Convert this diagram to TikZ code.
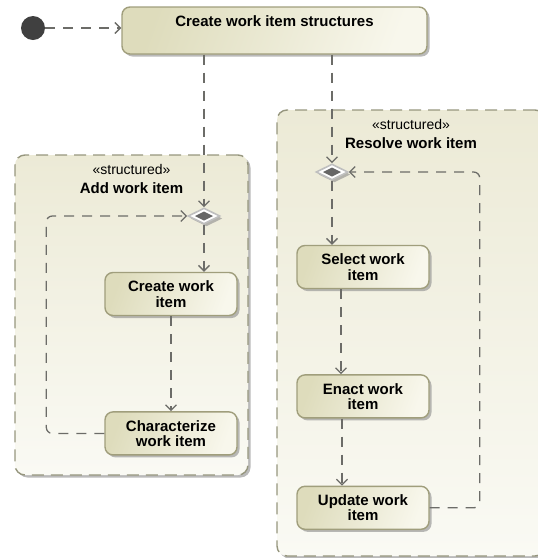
\documentclass[tikz,border=0pt]{standalone}
\usepackage{fontspec}
\setmainfont{Liberation Sans}
\usetikzlibrary{positioning,shapes.geometric,arrows.meta,shadows}

\definecolor{actdark}{RGB}{222,220,188}
\definecolor{actlight}{RGB}{248,247,236}
\definecolor{actline}{RGB}{160,158,124}
\definecolor{regdark}{RGB}{236,234,214}
\definecolor{reglight}{RGB}{250,250,244}
\definecolor{regline}{RGB}{150,150,126}
\definecolor{flowgray}{RGB}{108,108,104}

\begin{document}
\begin{tikzpicture}[
  x=1pt, y=-1pt,
  lbl/.style={font=\fontsize{15}{15.5}\selectfont\bfseries, align=center},
  stereo/.style={font=\fontsize{14}{15}\selectfont, inner sep=2pt},
  shade/.style={drop shadow={shadow xshift=2.5pt, shadow yshift=-2.5pt,
               fill=black!45, opacity=.6}},
  action/.style={draw=actline, line width=1.4pt, rounded corners=8pt,
                 left color=actdark, right color=actlight, shading angle=70,
                 shade, minimum width=132pt, minimum height=43pt, inner sep=1pt, lbl},
  region/.style={draw=regline, line width=1.4pt, dash pattern=on 12pt off 7pt,
                 rounded corners=10pt, top color=regdark, bottom color=reglight, shade},
  initial/.style={circle, fill=black!75, minimum size=24pt, inner sep=0pt},
  decision/.style={diamond, draw=gray!50, fill=white, line width=1.6pt,
                   minimum width=32pt, minimum height=16pt, inner sep=0pt, shade,
                   path picture={\fill[black!60] (path picture bounding box.center)
                     ++(-9pt,0) -- ++(9pt,4.5pt) -- ++(9pt,-4.5pt) -- ++(-9pt,-4.5pt) -- cycle;}},
  flow/.style={draw=flowgray, line width=1.3pt, dash pattern=on 10pt off 8pt,
               -{Straight Barb[length=5.5pt,width=11pt]}}
]
\useasboundingbox (0,0) rectangle (538,558);

% Initial node and the first action
\node[initial] (init) at (33,28) {};
\node[action, minimum width=305pt, minimum height=47pt,
  label={[lbl, anchor=north, yshift=-6pt]north:Create work item structures}] (structs) at (274.5,30.5) {};

% Structured regions
\node[region, minimum width=233pt, minimum height=320pt] (addreg) at (131.5,315) {};
\node[stereo, below=8pt of addreg.north] (addster) {«structured»};
\node[lbl, below=2pt of addster] (addname) {Add work item};

\node[region, minimum width=268pt, minimum height=446pt] (resreg) at (411,333) {};
\node[stereo, below=8pt of resreg.north] (resster) {«structured»};
\node[lbl, below=2pt of resster] (resname) {Resolve work item};

% Add work item loop
\node[decision] (dadd) at (204,216) {};
\node[action] (create) at (171,294) {Create work\\item};
\node[action, below=95pt of create] (charac) {Characterize\\work item};

% Resolve work item loop
\node[decision] (dres) at (332,172) {};
\node[action] (select) at (363,267) {Select work\\item};
\node[action, below=85pt of select] (enact) {Enact work\\item};
\node[action, below=67pt of enact] (update) {Update work\\item};

% Flows
\draw[flow] (init) -- (init -| structs.west);
\draw[flow] (structs.south -| dadd) -- (dadd.north);
\draw[flow] (structs.south -| dres) -- (dres.north);

\draw[flow] (dadd.south) -- (dadd.south |- create.north);
\draw[flow] (create) -- (charac);
\draw[flow, rounded corners=6pt] (charac.west) -- ++(-58pt,0) |- (dadd.west);

\draw[flow] (dres.south) -- (dres.south |- select.north);
\draw[flow] ([xshift=-22pt]select.south) -- ([xshift=-22pt]enact.north);
\draw[flow] ([xshift=-21pt]enact.south) -- ([xshift=-21pt]update.north);
\draw[flow, rounded corners=6pt] (update.east) -- ++(50pt,0) |- (dres.east);
\end{tikzpicture}
\end{document}
